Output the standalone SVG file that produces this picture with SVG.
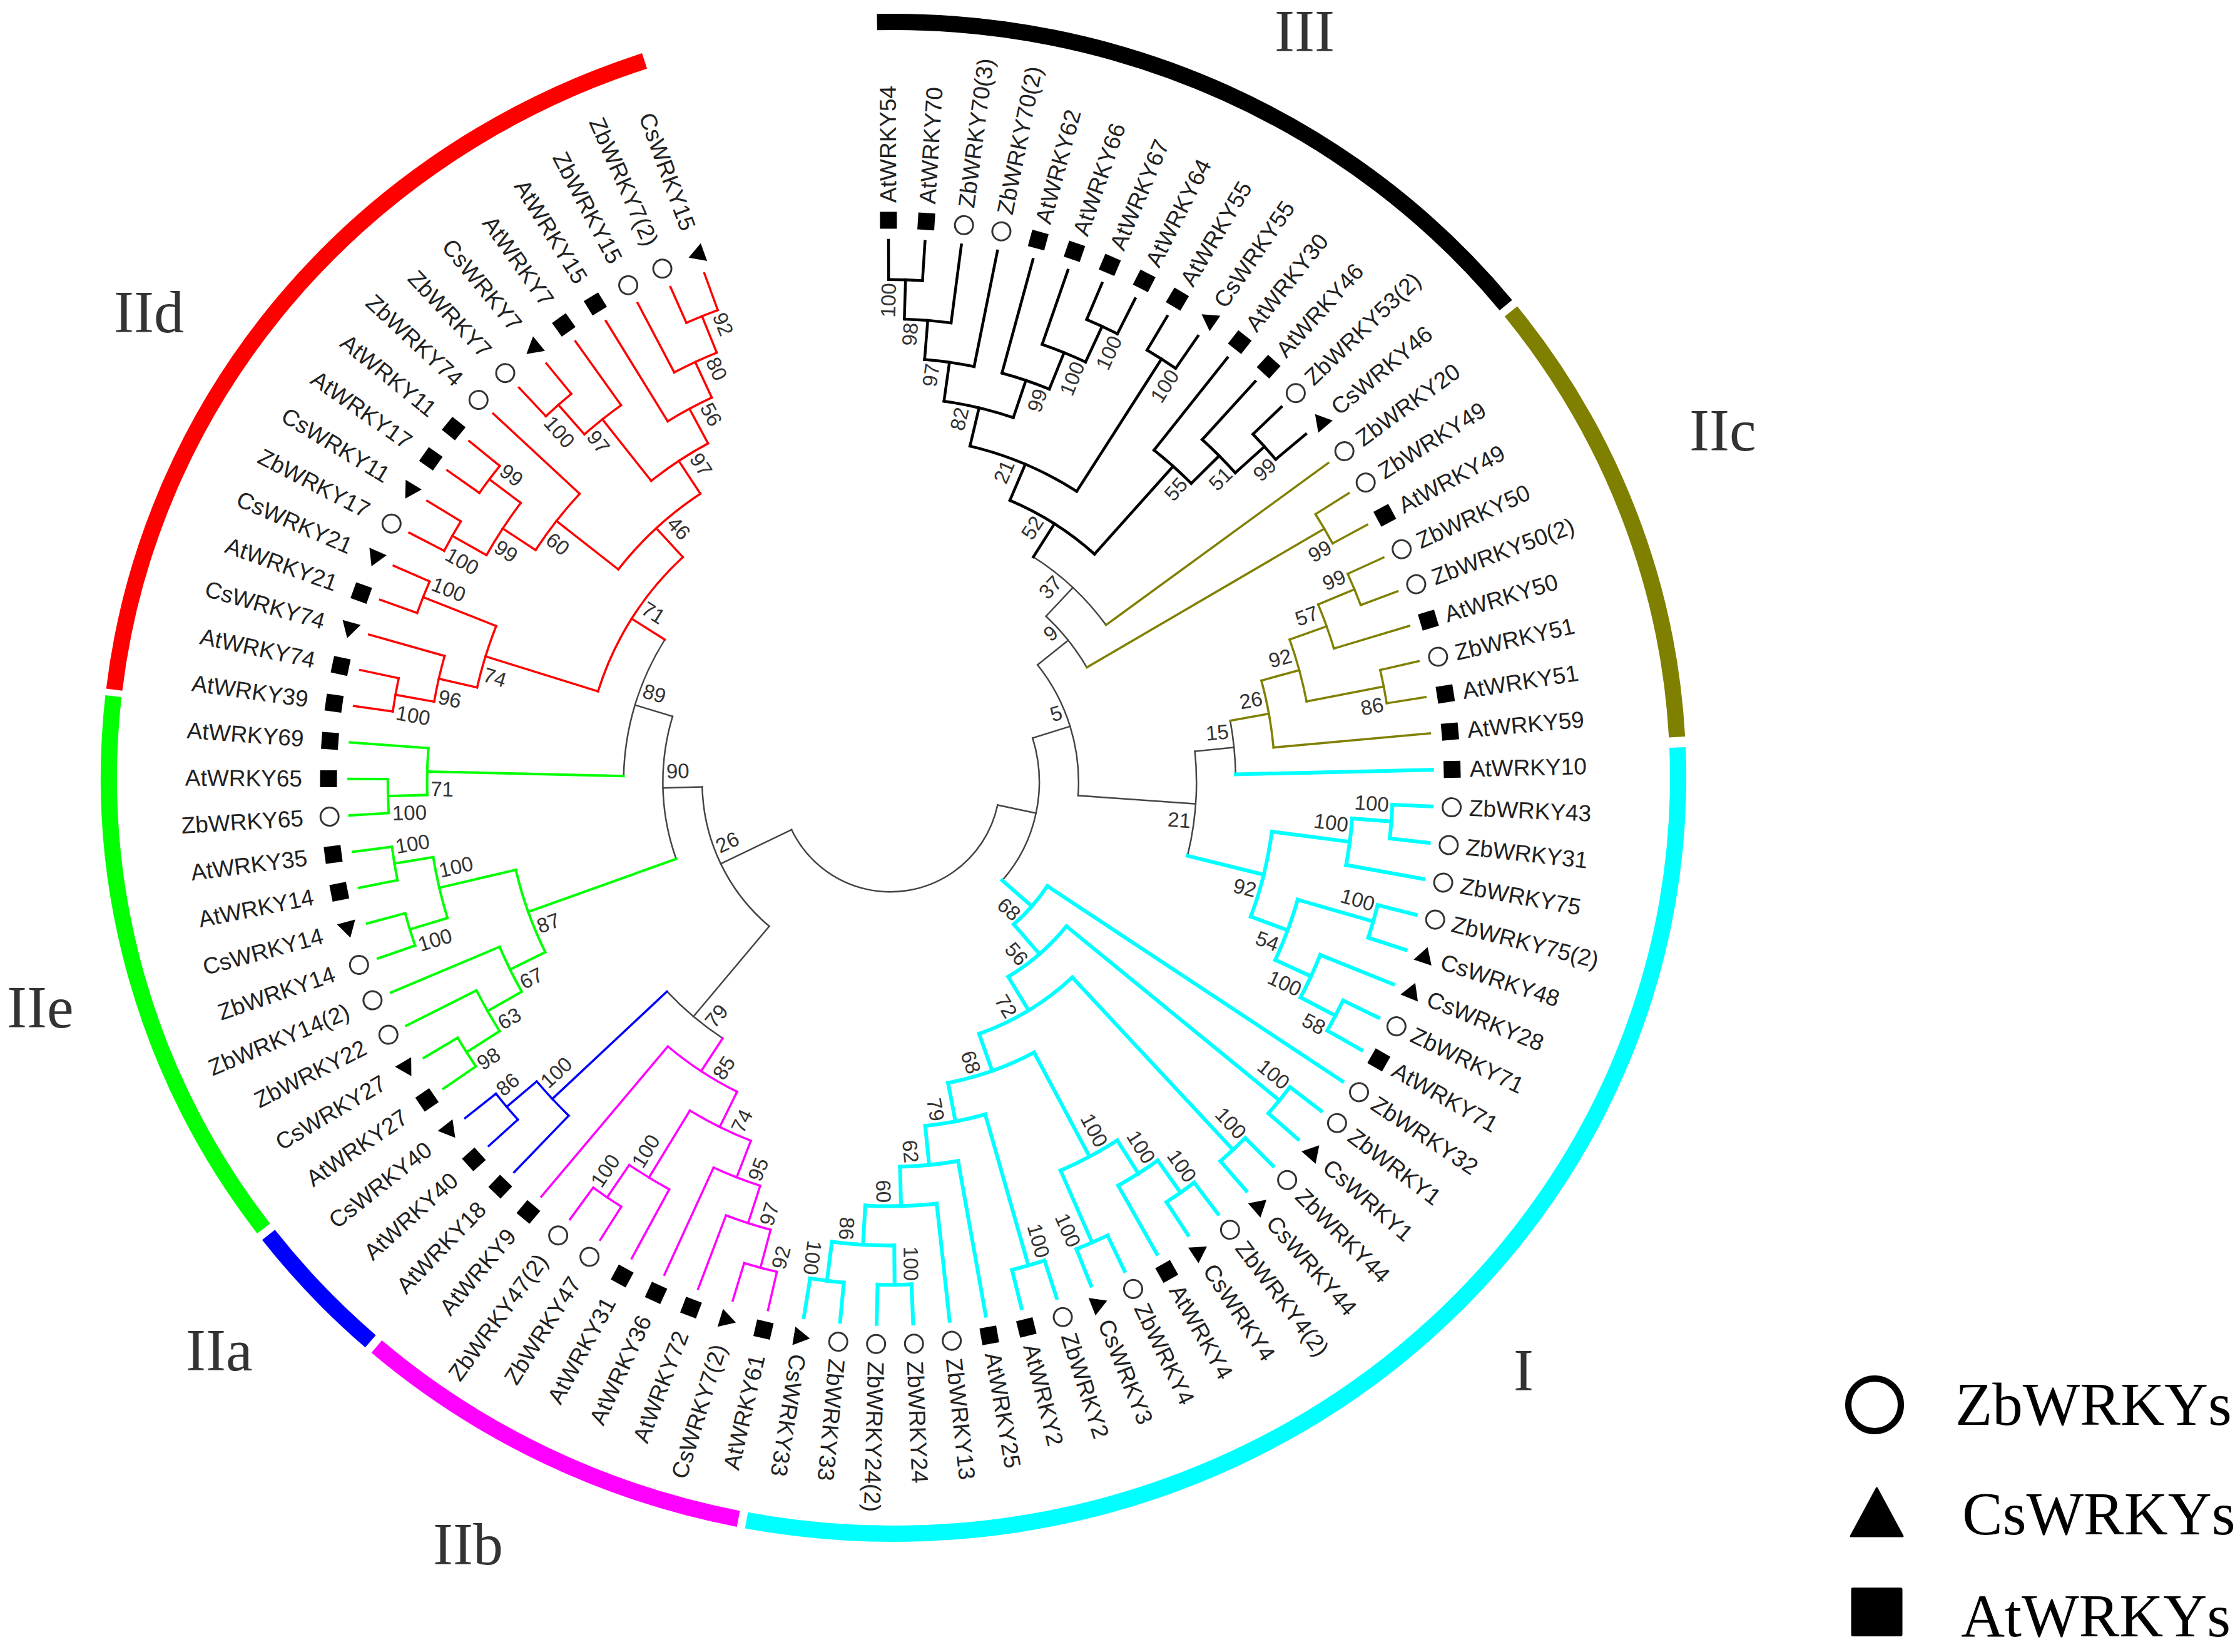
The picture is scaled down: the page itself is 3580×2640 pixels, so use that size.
<svg xmlns="http://www.w3.org/2000/svg" xmlns:xlink="http://www.w3.org/1999/xlink" width="3580" height="2640" viewBox="0 0 3580 2640">
<style>
.k{stroke:#000;stroke-width:4.5}
.o{stroke:#808000;stroke-width:3.5}
.c{stroke:#00ffff;stroke-width:6}
.m{stroke:#ff00ff;stroke-width:3.5}
.b{stroke:#0000ff;stroke-width:3.5}
.g{stroke:#00ff00;stroke-width:4}
.r{stroke:#ff0000;stroke-width:3.5}
.t{stroke:#444;stroke-width:2.5}
.lf text{font-family:"Liberation Sans",Arial,sans-serif;font-size:37px;fill:#222;dominant-baseline:central}
.lf text.f{text-anchor:end}
.bs text{font-family:"Liberation Sans",Arial,sans-serif;font-size:33px;fill:#333;text-anchor:end}
.bs text.f{text-anchor:start}
.cl{font-family:"Liberation Serif","Times New Roman",serif;font-size:96px;fill:#333}
.lg{font-family:"Liberation Serif","Times New Roman",serif;font-size:97px;fill:#000}
.rg path{fill:none;stroke-width:26}
</style>
<defs>
<rect id="sq" x="-13.5" y="-13.5" width="27" height="27" fill="#000"/>
<circle id="ci" r="14.5" fill="#fff" stroke="#333" stroke-width="3"/>
<path id="tr" d="M0,-15L15,11H-15Z" fill="#000"/>
</defs>
<rect width="3580" height="2640" fill="#fff"/>
<g id="ring" class="rg">
<path stroke="#000" d="M1401.7,35.3A1254,1208 0 0 1 2406.7,487.7"/>
<path stroke="#808000" d="M2414.8,497.6A1254,1208 0 0 1 2680.2,1177.7"/>
<path stroke="#00ffff" d="M2681,1194.5A1254,1208 0 0 1 1193,2429.6"/>
<path stroke="#ff00ff" d="M1180.1,2427.2A1254,1208 0 0 1 602,2151.9"/>
<path stroke="#0000ff" d="M592.2,2143.5A1254,1208 0 0 1 429.2,1973.4"/>
<path stroke="#00ff00" d="M421.3,1963.2A1254,1208 0 0 1 181.3,1112.5"/>
<path stroke="#ff0000" d="M182.6,1102.1A1254,1208 0 0 1 1030.1,97.4"/>
</g>
<g id="clade-labels" class="cl">
<text x="2037" y="82">III</text>
<text x="2700" y="720">IIc</text>
<text x="2419" y="2222">I</text>
<text x="692" y="2500">IIb</text>
<text x="297" y="2190">IIa</text>
<text x="11" y="1642">IIe</text>
<text x="182" y="531">IId</text>
</g>
<g id="tree" transform="translate(1423 1250)">
<g id="connectors" fill="none" stroke-linecap="square">
<g class="t">
<circle r="175.2" stroke-dasharray="435.15 9999" transform="rotate(12)"/>
<line x1="175.2" x2="238" transform="rotate(12)"/>
<line x1="175.2" x2="300.8" transform="rotate(154.3)"/>
<circle r="238" stroke-dasharray="243.05 9999" transform="rotate(-17.25)"/>
<line x1="238" x2="300.8" transform="rotate(-17.25)"/>
<circle r="300.8" stroke-dasharray="223.86 9999" transform="rotate(-38.57)"/>
<line x1="300.8" x2="363.6" transform="rotate(-38.57)"/>
<line x1="300.8" x2="489.2" transform="rotate(4.07)"/>
<circle r="363.6" stroke-dasharray="105.03 9999" transform="rotate(-46.84)"/>
<line x1="363.6" x2="426.4" transform="rotate(-46.84)"/>
<circle r="426.4" stroke-dasharray="160 9999" transform="rotate(-57.59)"/>
<circle r="489.2" stroke-dasharray="168.11 9999" transform="rotate(-5.78)"/>
<line x1="489.2" x2="552" transform="rotate(-5.78)"/>
<circle r="552" stroke-dasharray="86.18 9999" transform="rotate(-10.25)"/>
<circle r="300.8" stroke-dasharray="254.68 9999" transform="rotate(130.05)"/>
<line x1="300.8" x2="489.2" transform="rotate(130.05)"/>
<line x1="300.8" x2="363.6" transform="rotate(178.56)"/>
<circle r="363.6" stroke-dasharray="231.69 9999" transform="rotate(160.3)"/>
<line x1="363.6" x2="426.4" transform="rotate(196.81)"/>
<circle r="426.4" stroke-dasharray="230.55 9999" transform="rotate(181.32)"/>
<circle r="489.2" stroke-dasharray="116.54 9999" transform="rotate(123.22)"/>
</g>
<g class="k">
<circle r="803.2" stroke-dasharray="54.2 9999" transform="rotate(-90.2)"/>
<line x1="803.2" x2="866" transform="rotate(-90.2)"/>
<line x1="803.2" x2="866" transform="rotate(-86.335)"/>
<circle r="740.4" stroke-dasharray="74.95 9999" transform="rotate(-88.27)"/>
<line x1="740.4" x2="803.2" transform="rotate(-88.27)"/>
<line x1="740.4" x2="866" transform="rotate(-82.47)"/>
<circle r="677.6" stroke-dasharray="80 9999" transform="rotate(-85.37)"/>
<line x1="677.6" x2="740.4" transform="rotate(-85.37)"/>
<line x1="677.6" x2="866" transform="rotate(-78.605)"/>
<circle r="803.2" stroke-dasharray="54.2 9999" transform="rotate(-67.01)"/>
<line x1="803.2" x2="866" transform="rotate(-67.01)"/>
<line x1="803.2" x2="866" transform="rotate(-63.145)"/>
<circle r="740.4" stroke-dasharray="74.88 9999" transform="rotate(-70.875)"/>
<line x1="740.4" x2="866" transform="rotate(-70.875)"/>
<line x1="740.4" x2="803.2" transform="rotate(-65.08)"/>
<circle r="677.6" stroke-dasharray="79.94 9999" transform="rotate(-74.74)"/>
<line x1="677.6" x2="866" transform="rotate(-74.74)"/>
<line x1="677.6" x2="740.4" transform="rotate(-67.98)"/>
<circle r="614.8" stroke-dasharray="114.06 9999" transform="rotate(-81.99)"/>
<line x1="614.8" x2="677.6" transform="rotate(-81.99)"/>
<line x1="614.8" x2="677.6" transform="rotate(-71.36)"/>
<circle r="803.2" stroke-dasharray="54.2 9999" transform="rotate(-59.28)"/>
<line x1="803.2" x2="866" transform="rotate(-59.28)"/>
<line x1="803.2" x2="866" transform="rotate(-55.415)"/>
<circle r="552" stroke-dasharray="186.13 9999" transform="rotate(-76.67)"/>
<line x1="552" x2="614.8" transform="rotate(-76.67)"/>
<line x1="552" x2="803.2" transform="rotate(-57.35)"/>
<circle r="803.2" stroke-dasharray="54.2 9999" transform="rotate(-43.82)"/>
<line x1="803.2" x2="866" transform="rotate(-43.82)"/>
<line x1="803.2" x2="866" transform="rotate(-39.955)"/>
<circle r="740.4" stroke-dasharray="74.88 9999" transform="rotate(-47.685)"/>
<line x1="740.4" x2="866" transform="rotate(-47.685)"/>
<line x1="740.4" x2="803.2" transform="rotate(-41.89)"/>
<circle r="677.6" stroke-dasharray="79.94 9999" transform="rotate(-51.55)"/>
<line x1="677.6" x2="866" transform="rotate(-51.55)"/>
<line x1="677.6" x2="740.4" transform="rotate(-44.79)"/>
<circle r="489.2" stroke-dasharray="160.86 9999" transform="rotate(-67.01)"/>
<line x1="489.2" x2="552" transform="rotate(-67.01)"/>
<line x1="489.2" x2="677.6" transform="rotate(-48.17)"/>
<line x1="426.4" x2="489.2" transform="rotate(-57.59)"/>
</g>
<g class="o">
<line x1="426.4" x2="866" transform="rotate(-36.09)"/>
<line x1="363.6" x2="803.2" transform="rotate(-30.29)"/>
<circle r="803.2" stroke-dasharray="54.2 9999" transform="rotate(-32.225)"/>
<line x1="803.2" x2="866" transform="rotate(-32.225)"/>
<line x1="803.2" x2="866" transform="rotate(-28.36)"/>
<circle r="803.2" stroke-dasharray="54.2 9999" transform="rotate(-24.495)"/>
<line x1="803.2" x2="866" transform="rotate(-24.495)"/>
<line x1="803.2" x2="866" transform="rotate(-20.63)"/>
<circle r="740.4" stroke-dasharray="74.88 9999" transform="rotate(-22.56)"/>
<line x1="740.4" x2="803.2" transform="rotate(-22.56)"/>
<line x1="740.4" x2="866" transform="rotate(-16.765)"/>
<circle r="803.2" stroke-dasharray="54.2 9999" transform="rotate(-12.9)"/>
<line x1="803.2" x2="866" transform="rotate(-12.9)"/>
<line x1="803.2" x2="866" transform="rotate(-9.035)"/>
<circle r="677.6" stroke-dasharray="102.77 9999" transform="rotate(-19.66)"/>
<line x1="677.6" x2="740.4" transform="rotate(-19.66)"/>
<line x1="677.6" x2="803.2" transform="rotate(-10.97)"/>
<circle r="614.8" stroke-dasharray="108.91 9999" transform="rotate(-15.32)"/>
<line x1="614.8" x2="677.6" transform="rotate(-15.32)"/>
<line x1="614.8" x2="866" transform="rotate(-5.17)"/>
<line x1="552" x2="614.8" transform="rotate(-10.25)"/>
</g>
<g class="c">
<line x1="552" x2="866" transform="rotate(-1.305)"/>
<line x1="489.2" x2="614.8" transform="rotate(13.91)"/>
<circle r="614.8" stroke-dasharray="140.03 9999" transform="rotate(7.39)"/>
<line x1="614.8" x2="740.4" transform="rotate(7.39)"/>
<line x1="614.8" x2="677.6" transform="rotate(20.44)"/>
<circle r="740.4" stroke-dasharray="74.95 9999" transform="rotate(4.49)"/>
<line x1="740.4" x2="803.2" transform="rotate(4.49)"/>
<line x1="740.4" x2="866" transform="rotate(10.29)"/>
<circle r="803.2" stroke-dasharray="54.2 9999" transform="rotate(2.56)"/>
<line x1="803.2" x2="866" transform="rotate(2.56)"/>
<line x1="803.2" x2="866" transform="rotate(6.425)"/>
<circle r="677.6" stroke-dasharray="102.77 9999" transform="rotate(16.09)"/>
<line x1="677.6" x2="803.2" transform="rotate(16.09)"/>
<line x1="677.6" x2="740.4" transform="rotate(24.78)"/>
<circle r="803.2" stroke-dasharray="54.2 9999" transform="rotate(14.155)"/>
<line x1="803.2" x2="866" transform="rotate(14.155)"/>
<line x1="803.2" x2="866" transform="rotate(18.02)"/>
<circle r="740.4" stroke-dasharray="74.88 9999" transform="rotate(21.885)"/>
<line x1="740.4" x2="866" transform="rotate(21.885)"/>
<line x1="740.4" x2="803.2" transform="rotate(27.68)"/>
<circle r="803.2" stroke-dasharray="54.2 9999" transform="rotate(25.75)"/>
<line x1="803.2" x2="866" transform="rotate(25.75)"/>
<line x1="803.2" x2="866" transform="rotate(29.615)"/>
<line x1="238" x2="300.8" transform="rotate(41.26)"/>
<circle r="300.8" stroke-dasharray="81.69 9999" transform="rotate(33.48)"/>
<line x1="300.8" x2="866" transform="rotate(33.48)"/>
<line x1="300.8" x2="363.6" transform="rotate(49.04)"/>
<circle r="363.6" stroke-dasharray="123.81 9999" transform="rotate(39.28)"/>
<line x1="363.6" x2="803.2" transform="rotate(39.28)"/>
<line x1="363.6" x2="426.4" transform="rotate(58.79)"/>
<circle r="803.2" stroke-dasharray="54.2 9999" transform="rotate(37.345)"/>
<line x1="803.2" x2="866" transform="rotate(37.345)"/>
<line x1="803.2" x2="866" transform="rotate(41.21)"/>
<circle r="426.4" stroke-dasharray="175.33 9999" transform="rotate(47.01)"/>
<line x1="426.4" x2="803.2" transform="rotate(47.01)"/>
<line x1="426.4" x2="489.2" transform="rotate(70.57)"/>
<circle r="803.2" stroke-dasharray="54.2 9999" transform="rotate(45.075)"/>
<line x1="803.2" x2="866" transform="rotate(45.075)"/>
<line x1="803.2" x2="866" transform="rotate(48.94)"/>
<circle r="489.2" stroke-dasharray="146.43 9999" transform="rotate(61.99)"/>
<line x1="489.2" x2="677.6" transform="rotate(61.99)"/>
<line x1="489.2" x2="552" transform="rotate(79.14)"/>
<circle r="677.6" stroke-dasharray="102.77 9999" transform="rotate(57.64)"/>
<line x1="677.6" x2="740.4" transform="rotate(57.64)"/>
<line x1="677.6" x2="803.2" transform="rotate(66.33)"/>
<circle r="740.4" stroke-dasharray="74.88 9999" transform="rotate(54.74)"/>
<line x1="740.4" x2="803.2" transform="rotate(54.74)"/>
<line x1="740.4" x2="866" transform="rotate(60.535)"/>
<circle r="803.2" stroke-dasharray="54.2 9999" transform="rotate(52.805)"/>
<line x1="803.2" x2="866" transform="rotate(52.805)"/>
<line x1="803.2" x2="866" transform="rotate(56.67)"/>
<circle r="803.2" stroke-dasharray="54.2 9999" transform="rotate(64.4)"/>
<line x1="803.2" x2="866" transform="rotate(64.4)"/>
<line x1="803.2" x2="866" transform="rotate(68.265)"/>
<circle r="552" stroke-dasharray="97.79 9999" transform="rotate(74.06)"/>
<line x1="552" x2="803.2" transform="rotate(74.06)"/>
<line x1="552" x2="614.8" transform="rotate(84.21)"/>
<circle r="803.2" stroke-dasharray="54.2 9999" transform="rotate(72.13)"/>
<line x1="803.2" x2="866" transform="rotate(72.13)"/>
<line x1="803.2" x2="866" transform="rotate(75.995)"/>
<circle r="614.8" stroke-dasharray="93.35 9999" transform="rotate(79.86)"/>
<line x1="614.8" x2="866" transform="rotate(79.86)"/>
<line x1="614.8" x2="677.6" transform="rotate(88.56)"/>
<circle r="677.6" stroke-dasharray="114.3 9999" transform="rotate(83.725)"/>
<line x1="677.6" x2="866" transform="rotate(83.725)"/>
<line x1="677.6" x2="740.4" transform="rotate(93.39)"/>
<circle r="740.4" stroke-dasharray="99.89 9999" transform="rotate(89.52)"/>
<line x1="740.4" x2="803.2" transform="rotate(89.52)"/>
<line x1="740.4" x2="803.2" transform="rotate(97.25)"/>
<circle r="803.2" stroke-dasharray="54.2 9999" transform="rotate(87.59)"/>
<line x1="803.2" x2="866" transform="rotate(87.59)"/>
<line x1="803.2" x2="866" transform="rotate(91.455)"/>
<circle r="803.2" stroke-dasharray="54.2 9999" transform="rotate(95.32)"/>
<line x1="803.2" x2="866" transform="rotate(95.32)"/>
<line x1="803.2" x2="866" transform="rotate(99.185)"/>
</g>
<g class="m">
<line x1="489.2" x2="552" transform="rotate(123.22)"/>
<circle r="552" stroke-dasharray="132.61 9999" transform="rotate(116.34)"/>
<line x1="552" x2="614.8" transform="rotate(116.34)"/>
<line x1="552" x2="866" transform="rotate(130.105)"/>
<circle r="614.8" stroke-dasharray="108.91 9999" transform="rotate(111.26)"/>
<line x1="614.8" x2="677.6" transform="rotate(111.26)"/>
<line x1="614.8" x2="740.4" transform="rotate(121.41)"/>
<circle r="677.6" stroke-dasharray="80 9999" transform="rotate(107.88)"/>
<line x1="677.6" x2="740.4" transform="rotate(107.88)"/>
<line x1="677.6" x2="866" transform="rotate(114.645)"/>
<circle r="740.4" stroke-dasharray="74.95 9999" transform="rotate(104.98)"/>
<line x1="740.4" x2="803.2" transform="rotate(104.98)"/>
<line x1="740.4" x2="866" transform="rotate(110.78)"/>
<circle r="803.2" stroke-dasharray="54.2 9999" transform="rotate(103.05)"/>
<line x1="803.2" x2="866" transform="rotate(103.05)"/>
<line x1="803.2" x2="866" transform="rotate(106.915)"/>
<circle r="740.4" stroke-dasharray="74.95 9999" transform="rotate(118.51)"/>
<line x1="740.4" x2="866" transform="rotate(118.51)"/>
<line x1="740.4" x2="803.2" transform="rotate(124.31)"/>
<circle r="803.2" stroke-dasharray="54.2 9999" transform="rotate(122.375)"/>
<line x1="803.2" x2="866" transform="rotate(122.375)"/>
<line x1="803.2" x2="866" transform="rotate(126.24)"/>
</g>
<g class="b">
<line x1="489.2" x2="740.4" transform="rotate(136.87)"/>
<circle r="740.4" stroke-dasharray="74.95 9999" transform="rotate(133.97)"/>
<line x1="740.4" x2="866" transform="rotate(133.97)"/>
<line x1="740.4" x2="803.2" transform="rotate(139.77)"/>
<circle r="803.2" stroke-dasharray="54.2 9999" transform="rotate(137.835)"/>
<line x1="803.2" x2="866" transform="rotate(137.835)"/>
<line x1="803.2" x2="866" transform="rotate(141.7)"/>
</g>
<g class="g">
<line x1="363.6" x2="614.8" transform="rotate(160.3)"/>
<circle r="614.8" stroke-dasharray="140.03 9999" transform="rotate(153.78)"/>
<line x1="614.8" x2="677.6" transform="rotate(153.78)"/>
<line x1="614.8" x2="740.4" transform="rotate(166.83)"/>
<circle r="677.6" stroke-dasharray="79.94 9999" transform="rotate(150.4)"/>
<line x1="677.6" x2="740.4" transform="rotate(150.4)"/>
<line x1="677.6" x2="866" transform="rotate(157.16)"/>
<circle r="740.4" stroke-dasharray="74.88 9999" transform="rotate(147.5)"/>
<line x1="740.4" x2="803.2" transform="rotate(147.5)"/>
<line x1="740.4" x2="866" transform="rotate(153.295)"/>
<circle r="803.2" stroke-dasharray="54.2 9999" transform="rotate(145.565)"/>
<line x1="803.2" x2="866" transform="rotate(145.565)"/>
<line x1="803.2" x2="866" transform="rotate(149.43)"/>
<circle r="740.4" stroke-dasharray="99.89 9999" transform="rotate(162.96)"/>
<line x1="740.4" x2="803.2" transform="rotate(162.96)"/>
<line x1="740.4" x2="803.2" transform="rotate(170.69)"/>
<circle r="803.2" stroke-dasharray="54.2 9999" transform="rotate(161.025)"/>
<line x1="803.2" x2="866" transform="rotate(161.025)"/>
<line x1="803.2" x2="866" transform="rotate(164.89)"/>
<circle r="803.2" stroke-dasharray="54.2 9999" transform="rotate(168.755)"/>
<line x1="803.2" x2="866" transform="rotate(168.755)"/>
<line x1="803.2" x2="866" transform="rotate(172.62)"/>
<line x1="426.4" x2="740.4" transform="rotate(181.32)"/>
<circle r="740.4" stroke-dasharray="74.88 9999" transform="rotate(178.42)"/>
<line x1="740.4" x2="803.2" transform="rotate(178.42)"/>
<line x1="740.4" x2="866" transform="rotate(184.215)"/>
<circle r="803.2" stroke-dasharray="54.2 9999" transform="rotate(176.485)"/>
<line x1="803.2" x2="866" transform="rotate(176.485)"/>
<line x1="803.2" x2="866" transform="rotate(180.35)"/>
</g>
<g class="r">
<line x1="426.4" x2="489.2" transform="rotate(212.3)"/>
<circle r="489.2" stroke-dasharray="256.74 9999" transform="rotate(197.26)"/>
<line x1="489.2" x2="677.6" transform="rotate(197.26)"/>
<line x1="489.2" x2="552" transform="rotate(227.33)"/>
<circle r="677.6" stroke-dasharray="102.89 9999" transform="rotate(192.91)"/>
<line x1="677.6" x2="740.4" transform="rotate(192.91)"/>
<line x1="677.6" x2="803.2" transform="rotate(201.61)"/>
<circle r="740.4" stroke-dasharray="74.95 9999" transform="rotate(190.01)"/>
<line x1="740.4" x2="803.2" transform="rotate(190.01)"/>
<line x1="740.4" x2="866" transform="rotate(195.81)"/>
<circle r="803.2" stroke-dasharray="54.2 9999" transform="rotate(188.08)"/>
<line x1="803.2" x2="866" transform="rotate(188.08)"/>
<line x1="803.2" x2="866" transform="rotate(191.945)"/>
<circle r="803.2" stroke-dasharray="54.2 9999" transform="rotate(199.675)"/>
<line x1="803.2" x2="866" transform="rotate(199.675)"/>
<line x1="803.2" x2="866" transform="rotate(203.54)"/>
<circle r="552" stroke-dasharray="179.19 9999" transform="rotate(218.03)"/>
<line x1="552" x2="677.6" transform="rotate(218.03)"/>
<line x1="552" x2="614.8" transform="rotate(236.63)"/>
<circle r="677.6" stroke-dasharray="114.3 9999" transform="rotate(213.2)"/>
<line x1="677.6" x2="740.4" transform="rotate(213.2)"/>
<line x1="677.6" x2="866" transform="rotate(222.865)"/>
<circle r="740.4" stroke-dasharray="99.89 9999" transform="rotate(209.34)"/>
<line x1="740.4" x2="803.2" transform="rotate(209.34)"/>
<line x1="740.4" x2="803.2" transform="rotate(217.07)"/>
<circle r="803.2" stroke-dasharray="54.2 9999" transform="rotate(207.405)"/>
<line x1="803.2" x2="866" transform="rotate(207.405)"/>
<line x1="803.2" x2="866" transform="rotate(211.27)"/>
<circle r="803.2" stroke-dasharray="54.2 9999" transform="rotate(215.135)"/>
<line x1="803.2" x2="866" transform="rotate(215.135)"/>
<line x1="803.2" x2="866" transform="rotate(219)"/>
<circle r="614.8" stroke-dasharray="108.91 9999" transform="rotate(231.56)"/>
<line x1="614.8" x2="740.4" transform="rotate(231.56)"/>
<line x1="614.8" x2="677.6" transform="rotate(241.71)"/>
<circle r="740.4" stroke-dasharray="74.95 9999" transform="rotate(228.66)"/>
<line x1="740.4" x2="803.2" transform="rotate(228.66)"/>
<line x1="740.4" x2="866" transform="rotate(234.46)"/>
<circle r="803.2" stroke-dasharray="54.2 9999" transform="rotate(226.73)"/>
<line x1="803.2" x2="866" transform="rotate(226.73)"/>
<line x1="803.2" x2="866" transform="rotate(230.595)"/>
<circle r="677.6" stroke-dasharray="80 9999" transform="rotate(238.325)"/>
<line x1="677.6" x2="866" transform="rotate(238.325)"/>
<line x1="677.6" x2="740.4" transform="rotate(245.09)"/>
<circle r="740.4" stroke-dasharray="74.95 9999" transform="rotate(242.19)"/>
<line x1="740.4" x2="866" transform="rotate(242.19)"/>
<line x1="740.4" x2="803.2" transform="rotate(247.99)"/>
<circle r="803.2" stroke-dasharray="54.2 9999" transform="rotate(246.055)"/>
<line x1="803.2" x2="866" transform="rotate(246.055)"/>
<line x1="803.2" x2="866" transform="rotate(249.92)"/>
</g>
</g>
<g id="leaves" class="lf">
<g id="AtWRKY54" transform="rotate(-90.2)"><use href="#sq" x="898"/><text x="926">AtWRKY54</text></g>
<g id="AtWRKY70" transform="rotate(-86.335)"><use href="#sq" x="898"/><text x="926">AtWRKY70</text></g>
<g id="ZbWRKY70-3" transform="rotate(-82.47)"><use href="#ci" x="898"/><text x="926">ZbWRKY70(3)</text></g>
<g id="ZbWRKY70-2" transform="rotate(-78.605)"><use href="#ci" x="898"/><text x="926">ZbWRKY70(2)</text></g>
<g id="AtWRKY62" transform="rotate(-74.74)"><use href="#sq" x="898"/><text x="926">AtWRKY62</text></g>
<g id="AtWRKY66" transform="rotate(-70.875)"><use href="#sq" x="898"/><text x="926">AtWRKY66</text></g>
<g id="AtWRKY67" transform="rotate(-67.01)"><use href="#sq" x="898"/><text x="926">AtWRKY67</text></g>
<g id="AtWRKY64" transform="rotate(-63.145)"><use href="#sq" x="898"/><text x="926">AtWRKY64</text></g>
<g id="AtWRKY55" transform="rotate(-59.28)"><use href="#sq" x="898"/><text x="926">AtWRKY55</text></g>
<g id="CsWRKY55" transform="rotate(-55.415)"><use href="#tr" x="898"/><text x="926">CsWRKY55</text></g>
<g id="AtWRKY30" transform="rotate(-51.55)"><use href="#sq" x="898"/><text x="926">AtWRKY30</text></g>
<g id="AtWRKY46" transform="rotate(-47.685)"><use href="#sq" x="898"/><text x="926">AtWRKY46</text></g>
<g id="ZbWRKY53-2" transform="rotate(-43.82)"><use href="#ci" x="898"/><text x="926">ZbWRKY53(2)</text></g>
<g id="CsWRKY46" transform="rotate(-39.955)"><use href="#tr" x="898"/><text x="926">CsWRKY46</text></g>
<g id="ZbWRKY20" transform="rotate(-36.09)"><use href="#ci" x="898"/><text x="926">ZbWRKY20</text></g>
<g id="ZbWRKY49" transform="rotate(-32.225)"><use href="#ci" x="898"/><text x="926">ZbWRKY49</text></g>
<g id="AtWRKY49" transform="rotate(-28.36)"><use href="#sq" x="898"/><text x="926">AtWRKY49</text></g>
<g id="ZbWRKY50" transform="rotate(-24.495)"><use href="#ci" x="898"/><text x="926">ZbWRKY50</text></g>
<g id="ZbWRKY50-2" transform="rotate(-20.63)"><use href="#ci" x="898"/><text x="926">ZbWRKY50(2)</text></g>
<g id="AtWRKY50" transform="rotate(-16.765)"><use href="#sq" x="898"/><text x="926">AtWRKY50</text></g>
<g id="ZbWRKY51" transform="rotate(-12.9)"><use href="#ci" x="898"/><text x="926">ZbWRKY51</text></g>
<g id="AtWRKY51" transform="rotate(-9.035)"><use href="#sq" x="898"/><text x="926">AtWRKY51</text></g>
<g id="AtWRKY59" transform="rotate(-5.17)"><use href="#sq" x="898"/><text x="926">AtWRKY59</text></g>
<g id="AtWRKY10" transform="rotate(-1.305)"><use href="#sq" x="898"/><text x="926">AtWRKY10</text></g>
<g id="ZbWRKY43" transform="rotate(2.56)"><use href="#ci" x="898"/><text x="926">ZbWRKY43</text></g>
<g id="ZbWRKY31" transform="rotate(6.425)"><use href="#ci" x="898"/><text x="926">ZbWRKY31</text></g>
<g id="ZbWRKY75" transform="rotate(10.29)"><use href="#ci" x="898"/><text x="926">ZbWRKY75</text></g>
<g id="ZbWRKY75-2" transform="rotate(14.155)"><use href="#ci" x="898"/><text x="926">ZbWRKY75(2)</text></g>
<g id="CsWRKY48" transform="rotate(18.02)"><use href="#tr" x="898"/><text x="926">CsWRKY48</text></g>
<g id="CsWRKY28" transform="rotate(21.885)"><use href="#tr" x="898"/><text x="926">CsWRKY28</text></g>
<g id="ZbWRKY71" transform="rotate(25.75)"><use href="#ci" x="898"/><text x="926">ZbWRKY71</text></g>
<g id="AtWRKY71" transform="rotate(29.615)"><use href="#sq" x="898"/><text x="926">AtWRKY71</text></g>
<g id="ZbWRKY32" transform="rotate(33.48)"><use href="#ci" x="898"/><text x="926">ZbWRKY32</text></g>
<g id="ZbWRKY1" transform="rotate(37.345)"><use href="#ci" x="898"/><text x="926">ZbWRKY1</text></g>
<g id="CsWRKY1" transform="rotate(41.21)"><use href="#tr" x="898"/><text x="926">CsWRKY1</text></g>
<g id="ZbWRKY44" transform="rotate(45.075)"><use href="#ci" x="898"/><text x="926">ZbWRKY44</text></g>
<g id="CsWRKY44" transform="rotate(48.94)"><use href="#tr" x="898"/><text x="926">CsWRKY44</text></g>
<g id="ZbWRKY4-2" transform="rotate(52.805)"><use href="#ci" x="898"/><text x="926">ZbWRKY4(2)</text></g>
<g id="CsWRKY4" transform="rotate(56.67)"><use href="#tr" x="898"/><text x="926">CsWRKY4</text></g>
<g id="AtWRKY4" transform="rotate(60.535)"><use href="#sq" x="898"/><text x="926">AtWRKY4</text></g>
<g id="ZbWRKY4" transform="rotate(64.4)"><use href="#ci" x="898"/><text x="926">ZbWRKY4</text></g>
<g id="CsWRKY3" transform="rotate(68.265)"><use href="#tr" x="898"/><text x="926">CsWRKY3</text></g>
<g id="ZbWRKY2" transform="rotate(72.13)"><use href="#ci" x="898"/><text x="926">ZbWRKY2</text></g>
<g id="AtWRKY2" transform="rotate(75.995)"><use href="#sq" x="898"/><text x="926">AtWRKY2</text></g>
<g id="AtWRKY25" transform="rotate(79.86)"><use href="#sq" x="898"/><text x="926">AtWRKY25</text></g>
<g id="ZbWRKY13" transform="rotate(83.725)"><use href="#ci" x="898"/><text x="926">ZbWRKY13</text></g>
<g id="ZbWRKY24" transform="rotate(87.59)"><use href="#ci" x="898"/><text x="926">ZbWRKY24</text></g>
<g id="ZbWRKY24-2" transform="rotate(91.455)"><use href="#ci" x="898"/><text x="926">ZbWRKY24(2)</text></g>
<g id="ZbWRKY33" transform="rotate(95.32)"><use href="#ci" x="898"/><text x="926">ZbWRKY33</text></g>
<g id="CsWRKY33" transform="rotate(99.185)"><use href="#tr" x="898"/><text x="926">CsWRKY33</text></g>
<g id="AtWRKY61" transform="rotate(103.05)"><use href="#sq" x="898"/><text class="f" x="-940" transform="rotate(180)">AtWRKY61</text></g>
<g id="CsWRKY7-2" transform="rotate(106.915)"><use href="#tr" x="898"/><text class="f" x="-940" transform="rotate(180)">CsWRKY7(2)</text></g>
<g id="AtWRKY72" transform="rotate(110.78)"><use href="#sq" x="898"/><text class="f" x="-940" transform="rotate(180)">AtWRKY72</text></g>
<g id="AtWRKY36" transform="rotate(114.645)"><use href="#sq" x="898"/><text class="f" x="-940" transform="rotate(180)">AtWRKY36</text></g>
<g id="AtWRKY31" transform="rotate(118.51)"><use href="#sq" x="898"/><text class="f" x="-940" transform="rotate(180)">AtWRKY31</text></g>
<g id="ZbWRKY47" transform="rotate(122.375)"><use href="#ci" x="898"/><text class="f" x="-940" transform="rotate(180)">ZbWRKY47</text></g>
<g id="ZbWRKY47-2" transform="rotate(126.24)"><use href="#ci" x="898"/><text class="f" x="-940" transform="rotate(180)">ZbWRKY47(2)</text></g>
<g id="AtWRKY9" transform="rotate(130.105)"><use href="#sq" x="898"/><text class="f" x="-940" transform="rotate(180)">AtWRKY9</text></g>
<g id="AtWRKY18" transform="rotate(133.97)"><use href="#sq" x="898"/><text class="f" x="-940" transform="rotate(180)">AtWRKY18</text></g>
<g id="AtWRKY40" transform="rotate(137.835)"><use href="#sq" x="898"/><text class="f" x="-940" transform="rotate(180)">AtWRKY40</text></g>
<g id="CsWRKY40" transform="rotate(141.7)"><use href="#tr" x="898"/><text class="f" x="-940" transform="rotate(180)">CsWRKY40</text></g>
<g id="AtWRKY27" transform="rotate(145.565)"><use href="#sq" x="898"/><text class="f" x="-940" transform="rotate(180)">AtWRKY27</text></g>
<g id="CsWRKY27" transform="rotate(149.43)"><use href="#tr" x="898"/><text class="f" x="-940" transform="rotate(180)">CsWRKY27</text></g>
<g id="ZbWRKY22" transform="rotate(153.295)"><use href="#ci" x="898"/><text class="f" x="-940" transform="rotate(180)">ZbWRKY22</text></g>
<g id="ZbWRKY14-2" transform="rotate(157.16)"><use href="#ci" x="898"/><text class="f" x="-940" transform="rotate(180)">ZbWRKY14(2)</text></g>
<g id="ZbWRKY14" transform="rotate(161.025)"><use href="#ci" x="898"/><text class="f" x="-940" transform="rotate(180)">ZbWRKY14</text></g>
<g id="CsWRKY14" transform="rotate(164.89)"><use href="#tr" x="898"/><text class="f" x="-940" transform="rotate(180)">CsWRKY14</text></g>
<g id="AtWRKY14" transform="rotate(168.755)"><use href="#sq" x="898"/><text class="f" x="-940" transform="rotate(180)">AtWRKY14</text></g>
<g id="AtWRKY35" transform="rotate(172.62)"><use href="#sq" x="898"/><text class="f" x="-940" transform="rotate(180)">AtWRKY35</text></g>
<g id="ZbWRKY65" transform="rotate(176.485)"><use href="#ci" x="898"/><text class="f" x="-940" transform="rotate(180)">ZbWRKY65</text></g>
<g id="AtWRKY65" transform="rotate(180.35)"><use href="#sq" x="898"/><text class="f" x="-940" transform="rotate(180)">AtWRKY65</text></g>
<g id="AtWRKY69" transform="rotate(184.215)"><use href="#sq" x="898"/><text class="f" x="-940" transform="rotate(180)">AtWRKY69</text></g>
<g id="AtWRKY39" transform="rotate(188.08)"><use href="#sq" x="898"/><text class="f" x="-940" transform="rotate(180)">AtWRKY39</text></g>
<g id="AtWRKY74" transform="rotate(191.945)"><use href="#sq" x="898"/><text class="f" x="-940" transform="rotate(180)">AtWRKY74</text></g>
<g id="CsWRKY74" transform="rotate(195.81)"><use href="#tr" x="898"/><text class="f" x="-940" transform="rotate(180)">CsWRKY74</text></g>
<g id="AtWRKY21" transform="rotate(199.675)"><use href="#sq" x="898"/><text class="f" x="-940" transform="rotate(180)">AtWRKY21</text></g>
<g id="CsWRKY21" transform="rotate(203.54)"><use href="#tr" x="898"/><text class="f" x="-940" transform="rotate(180)">CsWRKY21</text></g>
<g id="ZbWRKY17" transform="rotate(207.405)"><use href="#ci" x="898"/><text class="f" x="-940" transform="rotate(180)">ZbWRKY17</text></g>
<g id="CsWRKY11" transform="rotate(211.27)"><use href="#tr" x="898"/><text class="f" x="-940" transform="rotate(180)">CsWRKY11</text></g>
<g id="AtWRKY17" transform="rotate(215.135)"><use href="#sq" x="898"/><text class="f" x="-940" transform="rotate(180)">AtWRKY17</text></g>
<g id="AtWRKY11" transform="rotate(219)"><use href="#sq" x="898"/><text class="f" x="-940" transform="rotate(180)">AtWRKY11</text></g>
<g id="ZbWRKY74" transform="rotate(222.865)"><use href="#ci" x="898"/><text class="f" x="-940" transform="rotate(180)">ZbWRKY74</text></g>
<g id="ZbWRKY7" transform="rotate(226.73)"><use href="#ci" x="898"/><text class="f" x="-940" transform="rotate(180)">ZbWRKY7</text></g>
<g id="CsWRKY7" transform="rotate(230.595)"><use href="#tr" x="898"/><text class="f" x="-940" transform="rotate(180)">CsWRKY7</text></g>
<g id="AtWRKY7" transform="rotate(234.46)"><use href="#sq" x="898"/><text class="f" x="-940" transform="rotate(180)">AtWRKY7</text></g>
<g id="AtWRKY15" transform="rotate(238.325)"><use href="#sq" x="898"/><text class="f" x="-940" transform="rotate(180)">AtWRKY15</text></g>
<g id="ZbWRKY15" transform="rotate(242.19)"><use href="#ci" x="898"/><text class="f" x="-940" transform="rotate(180)">ZbWRKY15</text></g>
<g id="ZbWRKY7-2" transform="rotate(246.055)"><use href="#ci" x="898"/><text class="f" x="-940" transform="rotate(180)">ZbWRKY7(2)</text></g>
<g id="CsWRKY15" transform="rotate(249.92)"><use href="#tr" x="898"/><text class="f" x="-940" transform="rotate(180)">CsWRKY15</text></g>
</g>
<g id="bootstrap" class="bs">
<text transform="rotate(-88.27)" x="797.2" y="-15">100</text>
<text transform="rotate(-85.37)" x="734.4" y="-15">98</text>
<text transform="rotate(-81.99)" x="671.6" y="-15">97</text>
<text transform="rotate(-65.08)" x="797.2" y="39">100</text>
<text transform="rotate(-67.98)" x="734.4" y="39">100</text>
<text transform="rotate(-71.36)" x="671.6" y="39">99</text>
<text transform="rotate(-76.67)" x="608.8" y="-15">82</text>
<text transform="rotate(-57.35)" x="797.2" y="39">100</text>
<text transform="rotate(-67.01)" x="546" y="-15">21</text>
<text transform="rotate(-41.89)" x="797.2" y="39">99</text>
<text transform="rotate(-44.79)" x="734.4" y="39">51</text>
<text transform="rotate(-48.17)" x="671.6" y="39">55</text>
<text transform="rotate(-57.59)" x="483.2" y="-15">52</text>
<text transform="rotate(-46.84)" x="420.4" y="-15">37</text>
<text transform="rotate(-38.57)" x="357.6" y="-15">9</text>
<text transform="rotate(-17.25)" x="294.8" y="-15">5</text>
<text transform="rotate(-30.29)" x="797.2" y="39">99</text>
<text transform="rotate(-22.56)" x="797.2" y="-15">99</text>
<text transform="rotate(-19.66)" x="734.4" y="-15">57</text>
<text transform="rotate(-10.97)" x="797.2" y="39">86</text>
<text transform="rotate(-15.32)" x="671.6" y="-15">92</text>
<text transform="rotate(-10.25)" x="608.8" y="-15">26</text>
<text transform="rotate(-5.78)" x="546" y="-15">15</text>
<text transform="rotate(4.49)" x="797.2" y="-15">100</text>
<text transform="rotate(7.39)" x="734.4" y="-15">100</text>
<text transform="rotate(16.09)" x="797.2" y="-15">100</text>
<text transform="rotate(27.68)" x="797.2" y="39">58</text>
<text transform="rotate(24.78)" x="734.4" y="39">100</text>
<text transform="rotate(20.44)" x="671.6" y="39">54</text>
<text transform="rotate(13.91)" x="608.8" y="39">92</text>
<text transform="rotate(4.07)" x="483.2" y="39">21</text>
<text transform="rotate(39.28)" x="797.2" y="-15">100</text>
<text transform="rotate(47.01)" x="797.2" y="-15">100</text>
<text transform="rotate(54.74)" x="797.2" y="-15">100</text>
<text transform="rotate(57.64)" x="734.4" y="-15">100</text>
<text transform="rotate(66.33)" x="797.2" y="39">100</text>
<text transform="rotate(61.99)" x="671.6" y="-15">100</text>
<text transform="rotate(74.06)" x="797.2" y="-15">100</text>
<text transform="rotate(89.52)" x="797.2" y="-15">100</text>
<text transform="rotate(97.25)" x="797.2" y="39">100</text>
<text transform="rotate(93.39)" x="734.4" y="39">86</text>
<text transform="rotate(88.56)" x="671.6" y="39">60</text>
<text transform="rotate(84.21)" x="608.8" y="39">62</text>
<text transform="rotate(79.14)" x="546" y="39">79</text>
<text transform="rotate(70.57)" x="483.2" y="39">68</text>
<text transform="rotate(58.79)" x="420.4" y="39">72</text>
<text transform="rotate(49.04)" x="357.6" y="39">56</text>
<text transform="rotate(41.26)" x="294.8" y="39">68</text>
<text class="f" transform="rotate(284.98)" x="-797.2" y="39">92</text>
<text class="f" transform="rotate(287.88)" x="-734.4" y="39">97</text>
<text class="f" transform="rotate(291.26)" x="-671.6" y="39">95</text>
<text class="f" transform="rotate(304.31)" x="-797.2" y="-15">100</text>
<text class="f" transform="rotate(301.41)" x="-734.4" y="-15">100</text>
<text class="f" transform="rotate(296.34)" x="-608.8" y="39">74</text>
<text class="f" transform="rotate(303.22)" x="-546" y="39">85</text>
<text class="f" transform="rotate(319.77)" x="-797.2" y="-15">86</text>
<text class="f" transform="rotate(316.87)" x="-734.4" y="-15">100</text>
<text class="f" transform="rotate(310.05)" x="-483.2" y="39">79</text>
<text class="f" transform="rotate(327.5)" x="-797.2" y="39">98</text>
<text class="f" transform="rotate(330.4)" x="-734.4" y="39">63</text>
<text class="f" transform="rotate(333.78)" x="-671.6" y="39">67</text>
<text class="f" transform="rotate(342.96)" x="-797.2" y="39">100</text>
<text class="f" transform="rotate(350.69)" x="-797.2" y="-15">100</text>
<text class="f" transform="rotate(346.83)" x="-734.4" y="-15">100</text>
<text class="f" transform="rotate(340.3)" x="-608.8" y="39">87</text>
<text class="f" transform="rotate(358.42)" x="-797.2" y="39">100</text>
<text class="f" transform="rotate(361.32)" x="-734.4" y="39">71</text>
<text class="f" transform="rotate(358.56)" x="-357.6" y="-15">90</text>
<text class="f" transform="rotate(376.81)" x="-420.4" y="-15">89</text>
<text class="f" transform="rotate(334.3)" x="-294.8" y="-15">26</text>
<text class="f" transform="rotate(370.01)" x="-797.2" y="39">100</text>
<text class="f" transform="rotate(372.91)" x="-734.4" y="39">96</text>
<text class="f" transform="rotate(381.61)" x="-797.2" y="-15">100</text>
<text class="f" transform="rotate(377.26)" x="-671.6" y="39">74</text>
<text class="f" transform="rotate(389.34)" x="-797.2" y="39">100</text>
<text class="f" transform="rotate(397.07)" x="-797.2" y="-15">99</text>
<text class="f" transform="rotate(393.2)" x="-734.4" y="39">99</text>
<text class="f" transform="rotate(398.03)" x="-671.6" y="39">60</text>
<text class="f" transform="rotate(408.66)" x="-797.2" y="39">100</text>
<text class="f" transform="rotate(411.56)" x="-734.4" y="39">97</text>
<text class="f" transform="rotate(427.99)" x="-797.2" y="-15">92</text>
<text class="f" transform="rotate(425.09)" x="-734.4" y="-15">80</text>
<text class="f" transform="rotate(421.71)" x="-671.6" y="-15">56</text>
<text class="f" transform="rotate(416.63)" x="-608.8" y="-15">97</text>
<text class="f" transform="rotate(407.33)" x="-546" y="-15">46</text>
<text class="f" transform="rotate(392.3)" x="-483.2" y="-15">71</text>
</g>
</g>
<g id="legend">
<g id="legend-zb"><circle cx="2996" cy="2245" r="42" fill="none" stroke="#000" stroke-width="10"/><text class="lg" x="3125" y="2277">ZbWRKYs</text></g>
<g id="legend-cs"><path d="M2999.5,2378L3041,2455H2958Z" fill="#000" stroke="#000" stroke-width="3" stroke-linejoin="round"/><text class="lg" x="3136" y="2452">CsWRKYs</text></g>
<g id="legend-at"><rect x="2958.5" y="2537" width="82" height="78" rx="3" fill="#000"/><text class="lg" x="3134" y="2615">AtWRKYs</text></g>
</g>
</svg>
